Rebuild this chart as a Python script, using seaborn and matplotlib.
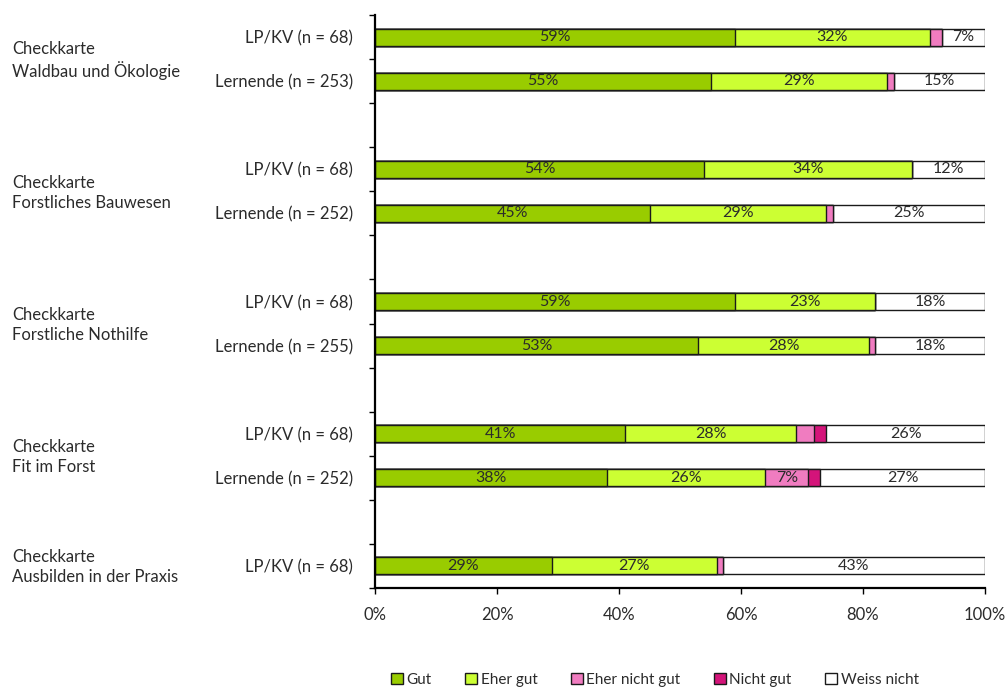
import numpy as np
import pandas as pd
import matplotlib
matplotlib.use("Agg")
import matplotlib.pyplot as plt
import seaborn as sns
from matplotlib.patches import Patch
from matplotlib.transforms import blended_transform_factory

# --- data -------------------------------------------------------------
groups = [
    "Checkkarte\nWaldbau und Ökologie",
    "Checkkarte\nForstliches Bauwesen",
    "Checkkarte\nForstliche Nothilfe",
    "Checkkarte\nFit im Forst",
    "Checkkarte\nAusbilden in der Praxis",
]
rows = [
    "LP/KV (n = 68)", "Lernende (n = 253)",
    "LP/KV (n = 68)", "Lernende (n = 252)",
    "LP/KV (n = 68)", "Lernende (n = 255)",
    "LP/KV (n = 68)", "Lernende (n = 252)",
    "LP/KV (n = 68)",
]
row_group = [0, 0, 1, 1, 2, 2, 3, 3, 4]

categories = ["Gut", "Eher gut", "Eher nicht gut", "Nicht gut", "Weiss nicht"]
gut            = [59, 55, 54, 45, 59, 53, 41, 38, 29]
eher_gut       = [32, 29, 34, 29, 23, 28, 28, 26, 27]
eher_nicht_gut = [2, 1, 0, 1, 0, 1, 3, 7, 1]
nicht_gut      = [0, 0, 0, 0, 0, 0, 2, 2, 0]
weiss_nicht    = [7, 15, 12, 25, 18, 18, 26, 27, 43]

colors = ["#99CC00", "#CCFF33", "#F07CC0", "#D4147A", "#FFFFFF"]
text_color = "#2b2b2b"

# --- layout helpers ---------------------------------------------------
# each group occupies three slots: two bars and one empty spacer slot
within = []
seen = {}
for g in row_group:
    within.append(seen.get(g, 0))
    seen[g] = seen.get(g, 0) + 1
pos = [g * 3 + k for g, k in zip(row_group, within)]
n_slots = max(pos) + 1

values = np.array([gut, eher_gut, eher_nicht_gut, nicht_gut, weiss_nicht], dtype=float)
cum = values.cumsum(axis=0)
left = cum - values

df = pd.DataFrame({"pos": pos, "row": rows})
for i, c in enumerate(categories):
    df[c] = cum[i]

sns.set_theme(style="white")
plt.rcParams["font.family"] = ["Lato", "DejaVu Sans"]
plt.rcParams["text.color"] = text_color
plt.rcParams["axes.labelcolor"] = text_color

fig = plt.figure(figsize=(10.07, 6.88), dpi=100)
ax = fig.add_axes([375 / 1007, 1 - 588 / 688, 610 / 1007, 573 / 688])

# stacked bars: draw cumulative totals from the outermost layer inward
for i in range(len(categories) - 1, -1, -1):
    sns.barplot(data=df, x=categories[i], y="pos", orient="y", native_scale=True,
                color=colors[i], saturation=1, width=0.385,
                edgecolor="#1a1a1a", linewidth=1.0, ax=ax, errorbar=None)

# percentage labels inside segments
for i in range(len(categories)):
    for j in range(len(rows)):
        v = values[i, j]
        if v >= 5:
            ax.text(left[i, j] + v / 2, pos[j], f"{int(v)}%", ha="center", va="center",
                    fontsize=11.5, color=text_color)

ax.set_xlim(0, 100)
ax.set_ylim(n_slots - 0.5, -0.5)
ax.set_xlabel("")
ax.set_ylabel("")

ax.set_xticks(np.arange(0, 101, 20))
ax.set_xticklabels([f"{t}%" for t in range(0, 101, 20)], color=text_color, fontsize=12)
ax.tick_params(axis="x", which="major", bottom=True, direction="out", length=4,
               width=1, pad=10, color="black")

ax.set_yticks(np.arange(-0.5, n_slots, 1.0))
ax.set_yticklabels([])
ax.tick_params(axis="y", which="major", left=True, direction="out", length=4,
               width=1, color="black")
ax.set_yticks(pos, minor=True)
ax.set_yticklabels(rows, minor=True, color=text_color, fontsize=12)
ax.tick_params(axis="y", which="minor", left=True, length=0, pad=16)

for side in ["top", "right"]:
    ax.spines[side].set_visible(False)
for side in ["left", "bottom"]:
    ax.spines[side].set_color("black")
    ax.spines[side].set_linewidth(1.6)

# group labels at the far left
trans = blended_transform_factory(fig.transFigure, ax.transData)
for g, name in enumerate(groups):
    ys = [p for p, rg in zip(pos, row_group) if rg == g]
    ax.text(12 / 1007, np.mean(ys) + 0.03, name, transform=trans, ha="left", va="center",
            fontsize=12, linespacing=1.3, color=text_color)

handles = [Patch(facecolor=c, edgecolor="#1a1a1a", linewidth=1.0, label=l)
           for c, l in zip(colors, categories)]
fig.legend(handles=handles, loc="center", bbox_to_anchor=(655 / 1007, 1 - 680 / 688),
           ncol=5, frameon=False, fontsize=11, handlelength=0.75, handleheight=0.75,
           handletextpad=0.25, columnspacing=2.2)

fig.savefig("out.png", dpi=100)
